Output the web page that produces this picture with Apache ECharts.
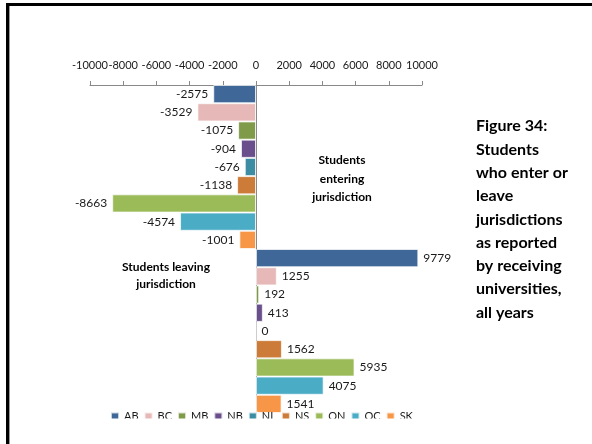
<!DOCTYPE html>
<html>
<head>
<meta charset="utf-8">
<script src="https://cdn.jsdelivr.net/npm/echarts@6/dist/echarts.min.js"></script>
<style>html,body{margin:0;padding:0;background:#fff;}#c{width:592px;height:444px;}</style>
</head>
<body>
<div id="c"></div>
<script>
const provinces = ['AB','BC','MB','NB','NL','NS','ON','QC','SK'];
const categories = ['Students leaving jurisdiction','Students entering jurisdiction'];
const leaving  = [-2575, -3529, -1075, -904, -676, -1138, -8663, -4574, -1001];
const entering = [9779, 1255, 192, 413, 0, 1562, 5935, 4075, 1541];
const colors = ['#3F6898','#E6B9B8','#7F9A48','#69508C','#3C8DA3','#CC7B38','#9BBB59','#4BACC6','#F79646'];
const tickMin = -10000, tickMax = 10000, tickStep = 2000;
const titleLines = ['Figure 34:','Students','who enter or','leave','jurisdictions','as reported','by receiving','universities,','all years'];

const FONT = 'Lato';
const chart = echarts.init(document.getElementById('c'), null, {renderer:'canvas'});
const series = provinces.map((p, i) => ({
  name: p,
  type: 'bar',
  data: [leaving[i], entering[i]],
  barGap: '0%',
  barCategoryGap: '0%',
  itemStyle: { color: colors[i], borderColor: 'rgba(255,255,255,0.7)', borderWidth: 1 },
  label: { show: true, position: 'outside', distance: 5, color: '#1a1a1a', fontFamily: FONT, fontSize: 12 },
  emphasis: { disabled: true },
  animation: false
}));

chart.setOption({
  backgroundColor: '#fff',
  animation: false,
  color: colors,
  grid: { left: 90, right: 170, top: 85, bottom: 31, containLabel: false },
  xAxis: {
    type: 'value', position: 'top', min: tickMin, max: tickMax, interval: tickStep,
    axisLine: { show: true, lineStyle: { color: '#898989', width: 1 } },
    axisTick: { show: true, length: 4, lineStyle: { color: '#898989' } },
    axisLabel: { margin: 14, color: '#1a1a1a', fontFamily: FONT, fontSize: 11, hideOverlap: false,
      showMinLabel: true, showMaxLabel: true, formatter: v => String(v) },
    splitLine: { show: false }
  },
  yAxis: {
    type: 'category', data: categories, inverse: true,
    axisLine: { show: true, onZero: true, lineStyle: { color: '#898989', width: 1 } },
    axisTick: { show: false },
    axisLabel: { show: false },
    splitLine: { show: false }
  },
  legend: {
    data: provinces, left: 110, top: 411, padding: 0, itemWidth: 8, itemHeight: 8, itemGap: 5,
    icon: 'rect', textStyle: { fontFamily: FONT, fontSize: 11, color: '#1a1a1a' },
    selectedMode: false
  },
  series: series,
  graphic: [
    { type: 'rect', z: 100, silent: true, shape: { x: 11, y: 418.5, width: 600, height: 40 }, style: { fill: '#fff' } },
    { type: 'rect', z: 101, silent: true, shape: { x: 7.5, y: 4.5, width: 700, height: 700 }, style: { fill: 'none', stroke: '#000', lineWidth: 3 } },
    { type: 'line', z: 101, silent: true, shape: { x1: 9.5, y1: 6, x2: 9.5, y2: 444 }, style: { stroke: '#999', lineWidth: 1 } },
    { type: 'text', z: 50, silent: true, x: 342, y: 151, style: { text: 'Students\nentering\njurisdiction', align: 'center', verticalAlign: 'top', lineHeight: 18.5, font: 'bold 12px Lato', fill: '#000' } },
    { type: 'text', z: 50, silent: true, x: 166, y: 259, style: { text: 'Students leaving\njurisdiction', align: 'center', verticalAlign: 'top', lineHeight: 16.5, font: 'bold 12px Lato', fill: '#000' } },
    { type: 'text', z: 50, silent: true, x: 476, y: 114.5, style: { text: titleLines.join('\n'), align: 'left', verticalAlign: 'top', lineHeight: 23.3, font: 'bold 16px Lato', fill: '#000' } }
  ]
});
</script>
</body>
</html>
